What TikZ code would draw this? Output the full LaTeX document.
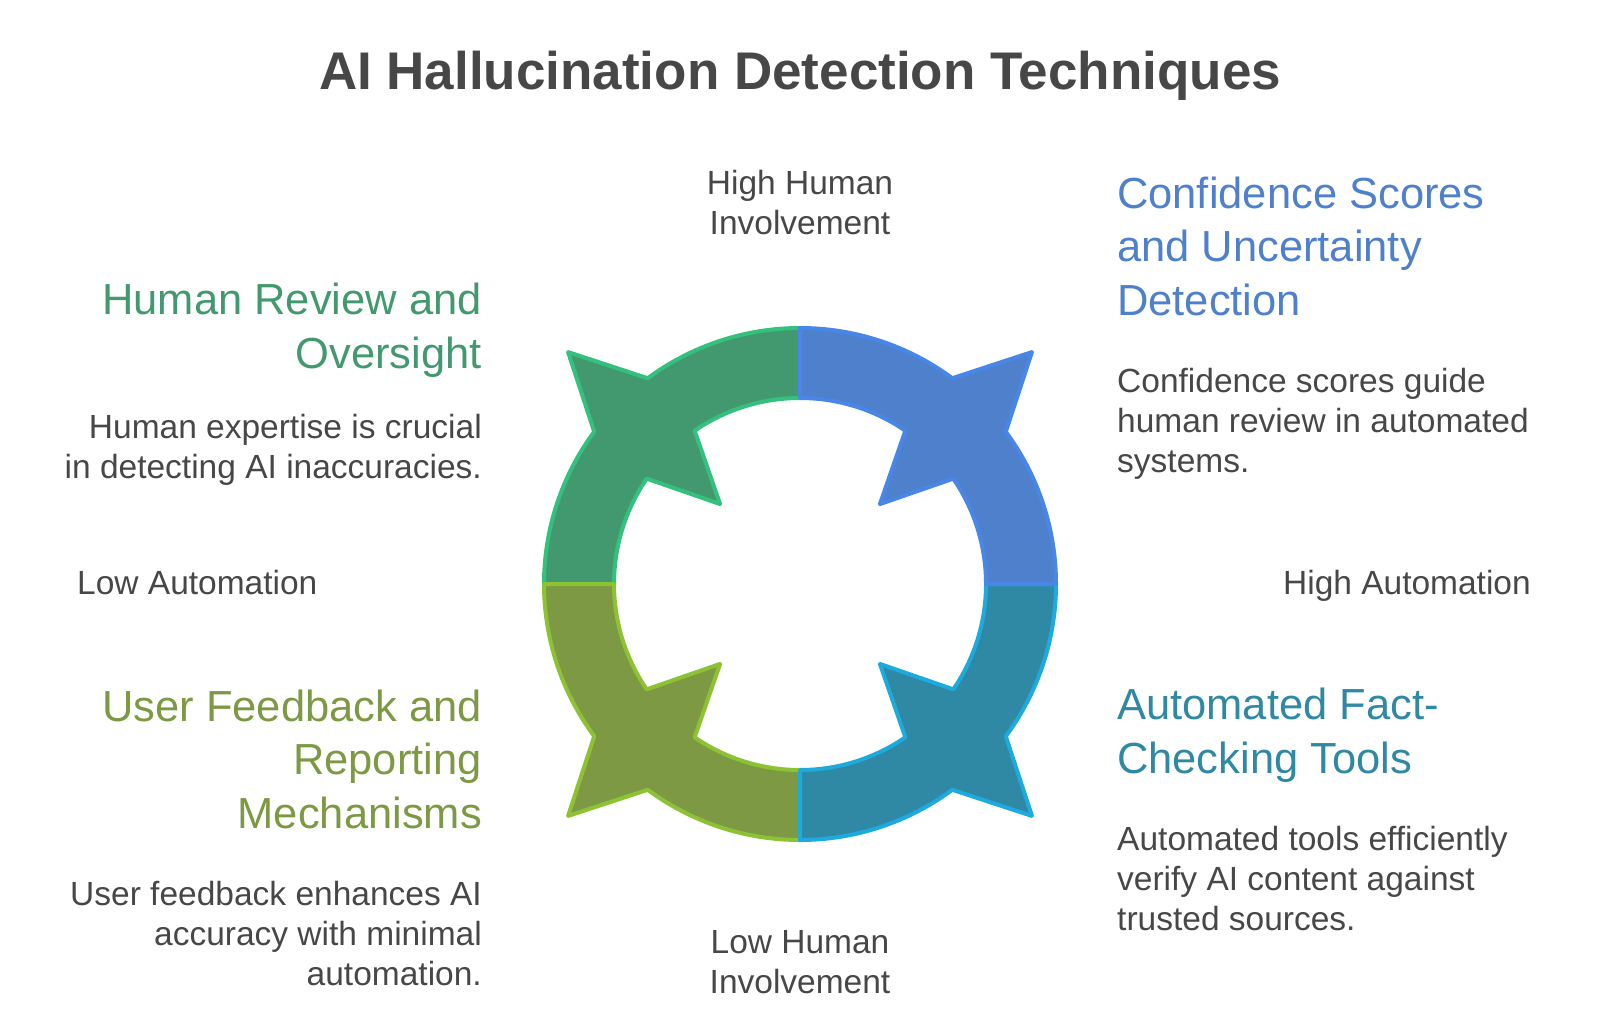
\documentclass[tikz,border=0pt]{standalone}
\usepackage{fontspec}
\setmainfont{Liberation Sans}
\usepackage{xcolor}
\usetikzlibrary{positioning}

\definecolor{inkgray}{HTML}{474747}
\definecolor{humanfill}{HTML}{43996F}
\definecolor{humanline}{HTML}{34C17E}
\definecolor{scorefill}{HTML}{4F80CC}
\definecolor{scoreline}{HTML}{4886E8}
\definecolor{factfill}{HTML}{2F88A4}
\definecolor{factline}{HTML}{1FAADD}
\definecolor{userfill}{HTML}{7E9944}
\definecolor{userline}{HTML}{8DC234}

\begin{document}
\begin{tikzpicture}[
  x=1pt, y=-1pt,
  title/.style={inner sep=0pt, text=inkgray, font=\bfseries\fontsize{53}{60}\selectfont},
  head/.style={inner sep=0pt, font=\fontsize{43.5}{53.5}\selectfont},
  body/.style={inner sep=0pt, text=inkgray, font=\fontsize{33.5}{40}\selectfont},
  axis/.style={body, align=center},
  piece/.style={line width=4pt, line join=round}
]
\useasboundingbox (0,0) rectangle (1600,1032);

% Title
\node[title, anchor=base] (title) at (800,90) {AI Hallucination Detection Techniques};

% Ring of four arrow pieces
\begin{scope}[shift={(800,584)}]
\foreach \a/\fc/\lc in {180/humanfill/humanline, 90/userfill/userline,
                        0/factfill/factline, 270/scorefill/scoreline}{
  \pgfmathsetmacro{\d}{\a+45}
  \pgfmathsetmacro{\e}{\a+90}
  \draw[piece, fill=\fc, draw=\lc]
    (\a:256) arc[start angle=\a, end angle=\d-8.5, radius=256]
    -- (\d:328) -- (\d+8.5:256)
    arc[start angle=\d+8.5, end angle=\e, radius=256]
    -- (\e:186) arc[start angle=\e, end angle=\d+10.5, radius=186]
    -- (\d:113) -- (\d-10.5:186)
    arc[start angle=\d-10.5, end angle=\a, radius=186] -- cycle;
}
\end{scope}

% Axis labels (base = last line)
\node[axis, anchor=base] (hihuman) at (800,235) {High Human\\Involvement};
\node[axis, anchor=base] (lohuman) at (800,993) {Low Human\\Involvement};
\node[body, anchor=base west] (loauto) at (77,594) {Low Automation};
\node[body, anchor=base east] (hiauto) at (1531,594) {High Automation};

% Human review (top left)
\node[head, text=humanfill, align=right, anchor=base east] (humanhead) at (482,368)
  {Human Review and\\Oversight};
\node[body, align=right, anchor=base east] (humantext) at (482,478)
  {Human expertise is crucial\\in detecting AI inaccuracies.};

% Confidence scores (top right)
\node[head, text=scorefill, align=left, anchor=base west] (scorehead) at (1117,315)
  {Confidence Scores\\and Uncertainty\\Detection};
\node[body, align=left, anchor=base west] (scoretext) at (1117,472)
  {Confidence scores guide\\human review in automated\\systems.};

% User feedback (bottom left)
\node[head, text=userfill, align=right, anchor=base east] (userhead) at (482,828)
  {User Feedback and\\Reporting\\Mechanisms};
\node[body, align=right, anchor=base east] (usertext) at (482,985)
  {User feedback enhances AI\\accuracy with minimal\\automation.};

% Fact checking (bottom right)
\node[head, text=factfill, align=left, anchor=base west] (facthead) at (1117,773)
  {Automated Fact-\\Checking Tools};
\node[body, align=left, anchor=base west] (facttext) at (1117,930)
  {Automated tools efficiently\\verify AI content against\\trusted sources.};

\end{tikzpicture}
\end{document}
